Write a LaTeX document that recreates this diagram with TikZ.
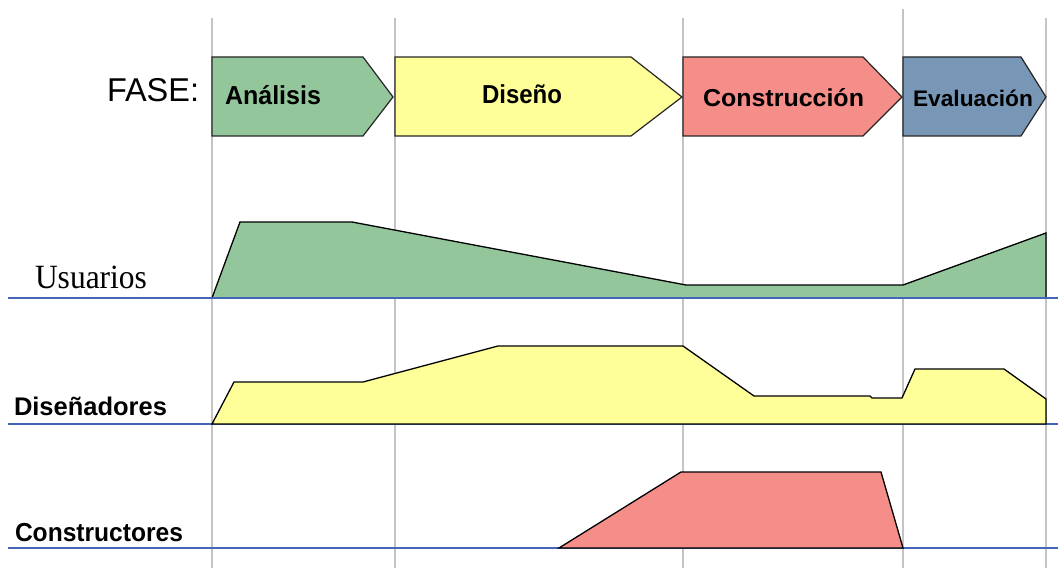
\documentclass[tikz,border=0pt]{standalone}
\usepackage{fontspec}
\setmainfont{Liberation Serif}
\setsansfont{Liberation Sans}
\usepackage{graphicx}
\definecolor{cgreen}{HTML}{93C79B}
\definecolor{cyellow}{HTML}{FFFF99}
\definecolor{cpink}{HTML}{F58D89}
\definecolor{cslate}{HTML}{7896B6}
\definecolor{cgrid}{HTML}{C4C4C4}
\definecolor{cbase}{HTML}{4466B8}
\newcommand{\fitlabel}[3]{\resizebox{#1pt}{\height}{\fontsize{#2}{#2}\selectfont #3}}
\begin{document}
\begin{tikzpicture}[x=1pt,y=-1pt,
  gridline/.style={draw=cgrid,line width=1.4pt},
  baseline/.style={draw=cbase,line width=1.6pt},
  phasebox/.style={draw=black!85,line width=1.2pt,line join=miter},
  areashape/.style={draw=black,line width=1.3pt,line join=miter},
  lbl/.style={anchor=base west,inner sep=0pt,outer sep=0pt,font=\sffamily}]
\useasboundingbox (0,0) rectangle (1058,575);
% grid lines
\foreach \gx/\gy in {212/18,395/18,683/18,903/9,1046/18}
  \draw[gridline] (\gx,\gy) -- (\gx,568);
% phase arrows
\draw[phasebox,fill=cgreen]  (212,57) -- (363,57) -- (393,97) -- (363,136) -- (212,136) -- cycle;
\draw[phasebox,fill=cyellow] (395,57) -- (631,57) -- (682,97) -- (631,136) -- (395,136) -- cycle;
\draw[phasebox,fill=cpink]   (683,57) -- (863,57) -- (902,97) -- (863,136) -- (683,136) -- cycle;
\draw[phasebox,fill=cslate]  (903,57) -- (1021,57) -- (1046,97) -- (1021,136) -- (903,136) -- cycle;
\node[lbl] (fase) at (107,102) {\fitlabel{92}{33}{FASE:}};
\node[lbl] (analisis) at (225,105) {\fitlabel{96}{26}{\bfseries Análisis}};
\node[lbl] (diseno) at (482,104) {\fitlabel{80}{26}{\bfseries Diseño}};
\node[lbl] (construccion) at (703,106.5) {\fitlabel{161}{24.5}{\bfseries Construcción}};
\node[lbl] (evaluacion) at (913,106.5) {\fitlabel{120}{22.5}{\bfseries Evaluación}};
% Usuarios
\draw[areashape,fill=cgreen] (212,298) -- (240,222) -- (352,222) -- (686,285) -- (903,285) -- (1046,233) -- (1046,298) -- cycle;
\draw[baseline] (8,298) -- (1058,298);
\node[lbl,font=\rmfamily] (usuarios) at (35,288) {\fitlabel{112}{34}{Usuarios}};
% Diseñadores
\draw[baseline] (8,424) -- (1058,424);
\draw[areashape,fill=cyellow] (212,424) -- (234,382) -- (363,382) -- (498,346) -- (683,346) -- (754,396) -- (870,396) -- (872,398) -- (902,398) -- (915,369) -- (1004,369) -- (1046,399) -- (1046,424) -- cycle;
\node[lbl] (disenadores) at (14,415) {\fitlabel{153}{25.5}{\bfseries Diseñadores}};
% Constructores
\draw[baseline] (8,548) -- (1058,548);
\draw[areashape,fill=cpink] (559,548) -- (681,472) -- (881,472) -- (903,548) -- cycle;
\node[lbl] (constructores) at (15,541) {\fitlabel{168}{26}{\bfseries Constructores}};
\end{tikzpicture}
\end{document}
